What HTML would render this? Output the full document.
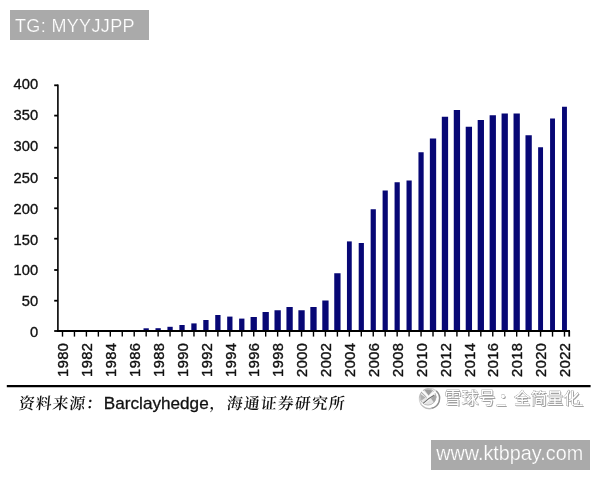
<!DOCTYPE html>
<html><head><meta charset="utf-8"><title>chart</title>
<style>
html,body{margin:0;padding:0;background:#fff;}
body{width:600px;height:480px;position:relative;overflow:hidden;font-family:"Liberation Sans","Noto Sans CJK SC",sans-serif;}
.tag{position:absolute;background:#aaaaaa;color:#fff;white-space:nowrap;-webkit-text-stroke:0.22px #aaaaaa;}
#tg{left:10px;top:10px;width:139px;height:30px;}
#tg span{position:absolute;left:5px;top:5.1px;font-size:18px;line-height:22px;letter-spacing:0.35px;}
#url{left:431px;top:440px;width:159px;height:30px;}
#url span{position:absolute;left:5.2px;top:0.8px;font-size:19.8px;line-height:24px;transform-origin:0 50%;}
svg{position:absolute;left:0;top:0;}
.ax line{stroke:#000;stroke-width:1.8;}
.bars rect{fill:#070775;}
.yl text{font-size:15px;fill:#111;stroke:#111;stroke-width:0.35;}
.xl text{font-size:14.6px;letter-spacing:0.47px;fill:#111;stroke:#111;stroke-width:0.4;}
#src{position:absolute;left:19.3px;top:390.5px;font-size:16.7px;line-height:24px;color:#111;white-space:nowrap;}
#src .cn{font-family:"Noto Serif CJK SC","Noto Sans CJK SC",serif;font-weight:600;font-size:15.9px;display:inline-block;transform:skewX(-6deg);letter-spacing:0.9px;}
#src .c1{margin-left:1.1px;}
#src .c2{margin-left:0.5px;letter-spacing:1.1px;}
#src .en{font-family:"Liberation Sans",sans-serif;margin-left:0.6px;font-size:17.15px;-webkit-text-stroke:0.3px #111;}
.wm{position:absolute;top:385.3px;font-size:17px;line-height:24px;-webkit-text-stroke:0.5px #6c6c6c;paint-order:stroke fill;color:#fff;white-space:nowrap;font-family:"Noto Sans CJK SC",sans-serif;text-shadow:1px 1px 0.3px #a0a0a0;letter-spacing:0px;}
</style></head><body>
<svg width="600" height="480" viewBox="0 0 600 480" font-family="Liberation Sans, sans-serif">
<g class="bars"><rect x="143.51" y="328.30" width="5.3" height="2.70"/><rect x="155.47" y="328.20" width="5.3" height="2.80"/><rect x="167.42" y="326.80" width="5.3" height="4.20"/><rect x="179.37" y="325.00" width="5.3" height="6.00"/><rect x="191.32" y="323.40" width="5.3" height="7.60"/><rect x="203.27" y="320.00" width="5.3" height="11.00"/><rect x="215.23" y="315.00" width="5.3" height="16.00"/><rect x="227.18" y="316.60" width="5.3" height="14.40"/><rect x="239.13" y="318.60" width="5.3" height="12.40"/><rect x="250.58" y="317.00" width="6.3" height="14.00"/><rect x="262.53" y="312.00" width="6.3" height="19.00"/><rect x="274.49" y="310.25" width="6.3" height="20.75"/><rect x="286.44" y="307.00" width="6.3" height="24.00"/><rect x="298.39" y="310.25" width="6.3" height="20.75"/><rect x="310.34" y="307.00" width="6.3" height="24.00"/><rect x="322.29" y="300.50" width="6.3" height="30.50"/><rect x="334.25" y="273.25" width="6.3" height="57.75"/><rect x="346.95" y="241.40" width="4.8" height="89.60"/><rect x="358.70" y="243.00" width="5.2" height="88.00"/><rect x="370.65" y="209.25" width="5.2" height="121.75"/><rect x="382.60" y="190.50" width="5.2" height="140.50"/><rect x="394.56" y="182.25" width="5.2" height="148.75"/><rect x="406.51" y="180.50" width="5.2" height="150.50"/><rect x="418.46" y="152.25" width="5.2" height="178.75"/><rect x="429.86" y="138.50" width="6.3" height="192.50"/><rect x="441.81" y="116.75" width="6.3" height="214.25"/><rect x="453.77" y="110.00" width="6.3" height="221.00"/><rect x="465.72" y="126.75" width="6.3" height="204.25"/><rect x="477.67" y="120.00" width="6.3" height="211.00"/><rect x="489.62" y="115.25" width="6.3" height="215.75"/><rect x="501.57" y="113.50" width="6.3" height="217.50"/><rect x="513.53" y="113.50" width="6.3" height="217.50"/><rect x="525.48" y="135.25" width="6.3" height="195.75"/><rect x="538.13" y="147.25" width="4.9" height="183.75"/><rect x="550.08" y="118.50" width="4.9" height="212.50"/><rect x="562.03" y="106.75" width="4.9" height="224.25"/></g>
<g class="ax">
<line x1="57.9" y1="84.5" x2="57.9" y2="332.0" style="stroke-width:1.6"/>
<line x1="56.9" y1="331.0" x2="570.0" y2="331.0"/>
<line x1="569.2" y1="331.0" x2="569.2" y2="336.6"/>
<line x1="62.50" y1="331.0" x2="62.50" y2="336.6" style="stroke-width:1.4"/><line x1="74.45" y1="331.0" x2="74.45" y2="336.6" style="stroke-width:1.4"/><line x1="86.40" y1="331.0" x2="86.40" y2="336.6" style="stroke-width:1.4"/><line x1="98.36" y1="331.0" x2="98.36" y2="336.6" style="stroke-width:1.4"/><line x1="110.31" y1="331.0" x2="110.31" y2="336.6" style="stroke-width:1.4"/><line x1="122.26" y1="331.0" x2="122.26" y2="336.6" style="stroke-width:1.4"/><line x1="134.21" y1="331.0" x2="134.21" y2="336.6" style="stroke-width:1.4"/><line x1="146.16" y1="331.0" x2="146.16" y2="336.6" style="stroke-width:1.4"/><line x1="158.12" y1="331.0" x2="158.12" y2="336.6" style="stroke-width:1.4"/><line x1="170.07" y1="331.0" x2="170.07" y2="336.6" style="stroke-width:1.4"/><line x1="182.02" y1="331.0" x2="182.02" y2="336.6" style="stroke-width:1.4"/><line x1="193.97" y1="331.0" x2="193.97" y2="336.6" style="stroke-width:1.4"/><line x1="205.92" y1="331.0" x2="205.92" y2="336.6" style="stroke-width:1.4"/><line x1="217.88" y1="331.0" x2="217.88" y2="336.6" style="stroke-width:1.4"/><line x1="229.83" y1="331.0" x2="229.83" y2="336.6" style="stroke-width:1.4"/><line x1="241.78" y1="331.0" x2="241.78" y2="336.6" style="stroke-width:1.4"/><line x1="253.73" y1="331.0" x2="253.73" y2="336.6" style="stroke-width:1.4"/><line x1="265.68" y1="331.0" x2="265.68" y2="336.6" style="stroke-width:1.4"/><line x1="277.64" y1="331.0" x2="277.64" y2="336.6" style="stroke-width:1.4"/><line x1="289.59" y1="331.0" x2="289.59" y2="336.6" style="stroke-width:1.4"/><line x1="301.54" y1="331.0" x2="301.54" y2="336.6" style="stroke-width:1.4"/><line x1="313.49" y1="331.0" x2="313.49" y2="336.6" style="stroke-width:1.4"/><line x1="325.44" y1="331.0" x2="325.44" y2="336.6" style="stroke-width:1.4"/><line x1="337.40" y1="331.0" x2="337.40" y2="336.6" style="stroke-width:1.4"/><line x1="349.35" y1="331.0" x2="349.35" y2="336.6" style="stroke-width:1.4"/><line x1="361.30" y1="331.0" x2="361.30" y2="336.6" style="stroke-width:1.4"/><line x1="373.25" y1="331.0" x2="373.25" y2="336.6" style="stroke-width:1.4"/><line x1="385.20" y1="331.0" x2="385.20" y2="336.6" style="stroke-width:1.4"/><line x1="397.16" y1="331.0" x2="397.16" y2="336.6" style="stroke-width:1.4"/><line x1="409.11" y1="331.0" x2="409.11" y2="336.6" style="stroke-width:1.4"/><line x1="421.06" y1="331.0" x2="421.06" y2="336.6" style="stroke-width:1.4"/><line x1="433.01" y1="331.0" x2="433.01" y2="336.6" style="stroke-width:1.4"/><line x1="444.96" y1="331.0" x2="444.96" y2="336.6" style="stroke-width:1.4"/><line x1="456.92" y1="331.0" x2="456.92" y2="336.6" style="stroke-width:1.4"/><line x1="468.87" y1="331.0" x2="468.87" y2="336.6" style="stroke-width:1.4"/><line x1="480.82" y1="331.0" x2="480.82" y2="336.6" style="stroke-width:1.4"/><line x1="492.77" y1="331.0" x2="492.77" y2="336.6" style="stroke-width:1.4"/><line x1="504.72" y1="331.0" x2="504.72" y2="336.6" style="stroke-width:1.4"/><line x1="516.68" y1="331.0" x2="516.68" y2="336.6" style="stroke-width:1.4"/><line x1="528.63" y1="331.0" x2="528.63" y2="336.6" style="stroke-width:1.4"/><line x1="540.58" y1="331.0" x2="540.58" y2="336.6" style="stroke-width:1.4"/><line x1="552.53" y1="331.0" x2="552.53" y2="336.6" style="stroke-width:1.4"/><line x1="564.48" y1="331.0" x2="564.48" y2="336.6" style="stroke-width:1.4"/>
<line x1="54.2" y1="331.00" x2="57.9" y2="331.00"/><line x1="54.2" y1="300.70" x2="57.9" y2="300.70"/><line x1="54.2" y1="270.00" x2="57.9" y2="270.00"/><line x1="54.2" y1="238.70" x2="57.9" y2="238.70"/><line x1="54.2" y1="208.30" x2="57.9" y2="208.30"/><line x1="54.2" y1="178.00" x2="57.9" y2="178.00"/><line x1="54.2" y1="147.70" x2="57.9" y2="147.70"/><line x1="54.2" y1="115.60" x2="57.9" y2="115.60"/><line x1="54.2" y1="85.30" x2="57.9" y2="85.30"/>
<line x1="6.8" y1="386.1" x2="590.6" y2="386.1" style="stroke-width:2.2"/>
</g>
<g class="yl"><text transform="translate(38.1,337.35) scale(0.98,1)" text-anchor="end">0</text><text transform="translate(38.1,306.40) scale(0.98,1)" text-anchor="end">50</text><text transform="translate(38.1,275.45) scale(0.98,1)" text-anchor="end">100</text><text transform="translate(38.1,244.50) scale(0.98,1)" text-anchor="end">150</text><text transform="translate(38.1,213.55) scale(0.98,1)" text-anchor="end">200</text><text transform="translate(38.1,182.60) scale(0.98,1)" text-anchor="end">250</text><text transform="translate(38.1,151.45) scale(0.98,1)" text-anchor="end">300</text><text transform="translate(38.1,120.20) scale(0.98,1)" text-anchor="end">350</text><text transform="translate(38.1,88.95) scale(0.98,1)" text-anchor="end">400</text></g>
<g class="xl"><text transform="translate(68.20,376.9) rotate(-90)">1980</text><text transform="translate(92.10,376.9) rotate(-90)">1982</text><text transform="translate(116.01,376.9) rotate(-90)">1984</text><text transform="translate(139.91,376.9) rotate(-90)">1986</text><text transform="translate(163.82,376.9) rotate(-90)">1988</text><text transform="translate(187.72,376.9) rotate(-90)">1990</text><text transform="translate(211.62,376.9) rotate(-90)">1992</text><text transform="translate(235.53,376.9) rotate(-90)">1994</text><text transform="translate(259.43,376.9) rotate(-90)">1996</text><text transform="translate(283.34,376.9) rotate(-90)">1998</text><text transform="translate(307.24,376.9) rotate(-90)">2000</text><text transform="translate(331.14,376.9) rotate(-90)">2002</text><text transform="translate(355.05,376.9) rotate(-90)">2004</text><text transform="translate(378.95,376.9) rotate(-90)">2006</text><text transform="translate(402.86,376.9) rotate(-90)">2008</text><text transform="translate(426.76,376.9) rotate(-90)">2010</text><text transform="translate(450.66,376.9) rotate(-90)">2012</text><text transform="translate(474.57,376.9) rotate(-90)">2014</text><text transform="translate(498.47,376.9) rotate(-90)">2016</text><text transform="translate(522.38,376.9) rotate(-90)">2018</text><text transform="translate(546.28,376.9) rotate(-90)">2020</text><text transform="translate(570.18,376.9) rotate(-90)">2022</text></g>
<g id="logo" fill="none" stroke-linecap="round">
<circle cx="429.4" cy="398.5" r="10.1" stroke="#d6d6d6" stroke-width="1.1"/>
<path d="M436.6 391.3 A10.1 10.1 0 0 1 432 408.3" stroke="#8f8f8f" stroke-width="1.4"/>
<path d="M432 408.3 A10.1 10.1 0 0 1 421 404" stroke="#bcbcbc" stroke-width="1.2"/>
<circle cx="428" cy="397" r="8.1" fill="#e6e6e6" stroke="#a4a4a4" stroke-width="0.7"/>
<path d="M424.5 390 Q428 388.6 432.5 390.8 L428.6 395.6 Z" fill="#9c9c9c" stroke="none"/>
<path d="M431 398.5 L435.6 394.6 Q436.8 399 434 402.6 Z" fill="#a6a6a6" stroke="none"/>
<path d="M420.4 394 L425.6 397.6 L421.4 400.6 Q420 397.5 420.4 394Z" fill="#b0b0b0" stroke="none"/>
<path d="M421.8 390.8 L427.6 396.6 Q429.5 398.6 427.5 400.2 L422.6 404" stroke="#fcfcfc" stroke-width="2.2" stroke-linejoin="round"/>
<path d="M434.6 392.2 Q430 395 427.5 400" stroke="#fcfcfc" stroke-width="2.0"/>
<path d="M433.8 395.4 Q428 398.2 423.4 403.2" stroke="#6e6e6e" stroke-width="1.1"/>
<path d="M421.6 392.4 L426.3 397" stroke="#8a8a8a" stroke-width="0.8"/>
</g>
</svg>
<div class="tag" id="tg"><span>TG: MYYJJPP</span></div>
<div id="src"><span class="cn">资料来源：</span><span class="en">Barclayhedge</span><span class="cn c1">，</span><span class="cn c2">海通证券研究所</span></div>
<div class="wm" style="left:444.5px">雪球号</div><div class="wm" style="left:496.5px">_</div><div class="wm" style="left:494.5px;top:384.2px">·</div><div class="wm" style="left:514px;font-size:16.4px">全简量化</div><div class="wm" style="left:573.5px">_</div>
<div class="tag" id="url"><span>www.ktbpay.com</span></div>
</body></html>
